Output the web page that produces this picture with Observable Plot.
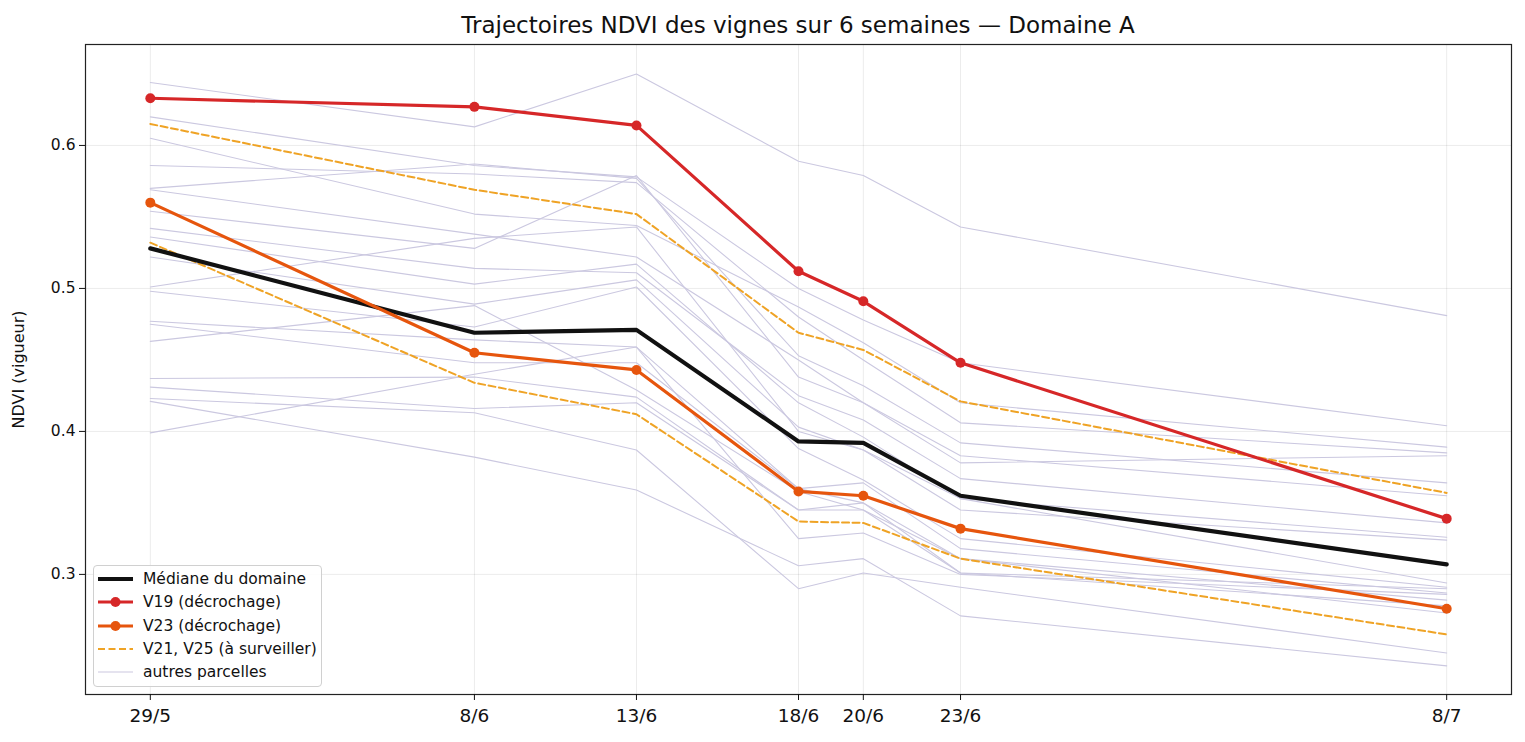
<!DOCTYPE html>
<html>
<head>
<meta charset="utf-8">
<script src="https://cdn.jsdelivr.net/npm/d3@7"></script>
<script src="https://cdn.jsdelivr.net/npm/@observablehq/plot@0.6"></script>
<style>
  html, body { margin: 0; padding: 0; background: #fff; }
  body { font-family: "DejaVu Sans", sans-serif; }
  #wrap { position: relative; width: 1525px; height: 742px; }
  #title { width: 1525px; height: 40px; line-height: 30px; padding-top: 10px; padding-left: 71px; box-sizing: border-box; text-align: center; font-size: 23px; color: #111; white-space: nowrap; }
  #legend { position: absolute; left: 93px; top: 565px; width: 229px; height: 122px; box-sizing: border-box;
            border: 1px solid #d0d0d0; border-radius: 4px; background: rgba(255,255,255,0.85); padding-top: 1.5px; }
  .row { height: 23.3px; display: flex; align-items: center; font-size: 15.5px; color: #111; white-space: nowrap; }
  .row svg { margin-left: 3px; margin-right: 9px; flex: none; }
</style>
</head>
<body>
<div id="wrap">
  <div id="title">Trajectoires NDVI des vignes sur 6 semaines — Domaine A</div>
  <div id="chart"></div>
  <div id="legend"></div>
</div>
<script>
// ---- Data ----
const dates = ["2024-05-29", "2024-06-08", "2024-06-13", "2024-06-18", "2024-06-20", "2024-06-23", "2024-07-08"];
const dateLabels = ["29/5", "8/6", "13/6", "18/6", "20/6", "23/6", "8/7"];
const yTicks = [0.3, 0.4, 0.5, 0.6];

const median = [0.528, 0.469, 0.471, 0.393, 0.392, 0.355, 0.307];
const v19 = [0.633, 0.627, 0.614, 0.512, 0.491, 0.448, 0.339];
const v23 = [0.560, 0.455, 0.443, 0.358, 0.355, 0.332, 0.276];
const v21 = [0.615, 0.569, 0.552, 0.469, 0.457, 0.421, 0.357];
const v25 = [0.532, 0.434, 0.412, 0.337, 0.336, 0.311, 0.258];

const autres = [
  [0.644, 0.613, 0.650, 0.589, 0.579, 0.543, 0.481],
  [0.620, 0.586, 0.578, 0.500, 0.478, 0.448, 0.404],
  [0.605, 0.552, 0.544, 0.487, 0.462, 0.420, 0.389],
  [0.586, 0.580, 0.574, 0.480, 0.450, 0.406, 0.385],
  [0.570, 0.587, 0.577, 0.453, 0.432, 0.392, 0.364],
  [0.569, 0.538, 0.522, 0.450, 0.420, 0.383, 0.355],
  [0.554, 0.528, 0.579, 0.438, 0.420, 0.378, 0.383],
  [0.542, 0.514, 0.511, 0.425, 0.408, 0.367, 0.336],
  [0.536, 0.503, 0.517, 0.420, 0.396, 0.353, 0.326],
  [0.522, 0.489, 0.506, 0.403, 0.387, 0.345, 0.324],
  [0.501, 0.535, 0.543, 0.400, 0.387, 0.353, 0.294],
  [0.498, 0.473, 0.501, 0.388, 0.366, 0.325, 0.291],
  [0.477, 0.464, 0.459, 0.360, 0.364, 0.318, 0.287],
  [0.475, 0.448, 0.448, 0.360, 0.350, 0.311, 0.282],
  [0.463, 0.488, 0.429, 0.358, 0.345, 0.301, 0.278],
  [0.437, 0.438, 0.424, 0.345, 0.345, 0.311, 0.273],
  [0.431, 0.416, 0.420, 0.345, 0.350, 0.301, 0.290],
  [0.423, 0.413, 0.387, 0.290, 0.301, 0.291, 0.245],
  [0.399, 0.440, 0.459, 0.325, 0.329, 0.300, 0.286],
  [0.421, 0.382, 0.359, 0.306, 0.311, 0.271, 0.236]
];

// ---- Build tables ----
const dateObjs = dates.map(d => new Date(d + "T00:00:00Z"));
const labelOf = new Map(dateObjs.map((d, i) => [+d, dateLabels[i]]));
const toRows = (vals, id) => vals.map((v, i) => ({date: dateObjs[i], v, id}));
const otherRows = autres.flatMap((vals, k) => toRows(vals, "g" + k));
const dashedRows = [...toRows(v21, "V21"), ...toRows(v25, "V25")];
const medRows = toRows(median, "med");
const v19Rows = toRows(v19, "V19");
const v23Rows = toRows(v23, "V23");

const C_GREY = "#cbc8e0", C_RED = "#d62728", C_ORANGE = "#e6550d", C_DASH = "#efa325", C_MED = "#111111";

const chart = Plot.plot({
  width: 1525,
  height: 702,
  marginLeft: 85,
  marginRight: 14,
  marginTop: 4,
  marginBottom: 48,
  style: {fontFamily: "DejaVu Sans, sans-serif", fontSize: "13px", color: "#111", background: "#fff"},
  x: {type: "utc", domain: [new Date("2024-05-27T00:00:00Z"), new Date("2024-07-10T00:00:00Z")]},
  y: {domain: [0.216, 0.6706]},
  marks: [
    Plot.gridX(dateObjs, {stroke: "#000", strokeOpacity: 0.08, strokeWidth: 1}),
    Plot.gridY(yTicks, {stroke: "#000", strokeOpacity: 0.08, strokeWidth: 1}),
    Plot.lineY(otherRows, {x: "date", y: "v", z: "id", stroke: C_GREY, strokeWidth: 1.1}),
    Plot.lineY(dashedRows, {x: "date", y: "v", z: "id", stroke: C_DASH, strokeWidth: 2, strokeDasharray: "7,3.5"}),
    Plot.lineY(medRows, {x: "date", y: "v", stroke: C_MED, strokeWidth: 4.2}),
    Plot.lineY(v23Rows, {x: "date", y: "v", stroke: C_ORANGE, strokeWidth: 3.2}),
    Plot.dot(v23Rows, {x: "date", y: "v", fill: C_ORANGE, r: 5}),
    Plot.lineY(v19Rows, {x: "date", y: "v", stroke: C_RED, strokeWidth: 3.2}),
    Plot.dot(v19Rows, {x: "date", y: "v", fill: C_RED, r: 5}),
    Plot.frame({stroke: "#222", strokeWidth: 1.2}),
    Plot.axisX(dateObjs, {tickFormat: d => labelOf.get(+d), tickSize: 6, tickPadding: 8, label: null, fontSize: 18.5}),
    Plot.axisY(yTicks, {tickFormat: d3.format(".1f"), tickSize: 6, tickPadding: 4, label: null, fontSize: 15.5}),
    Plot.axisY({ticks: [], tickSize: 0, label: "NDVI (vigueur)", labelAnchor: "center", labelArrow: "none",
      labelOffset: 73, fontSize: 16})
  ]
});
document.getElementById("chart").appendChild(chart);

// ---- Legend ----
const legendItems = [
  {label: "Médiane du domaine", color: C_MED, width: 4.2, dash: null, dot: false},
  {label: "V19 (décrochage)", color: C_RED, width: 3.2, dash: null, dot: true},
  {label: "V23 (décrochage)", color: C_ORANGE, width: 3.2, dash: null, dot: true},
  {label: "V21, V25 (à surveiller)", color: C_DASH, width: 2, dash: "7,3.5", dot: false},
  {label: "autres parcelles", color: C_GREY, width: 1.1, dash: null, dot: false}
];
const leg = document.getElementById("legend");
for (const it of legendItems) {
  const row = document.createElement("div");
  row.className = "row";
  row.innerHTML = `<svg width="37" height="12"><line x1="1" x2="36" y1="6" y2="6" stroke="${it.color}" stroke-width="${it.width}" ${it.dash ? `stroke-dasharray="${it.dash}"` : ""}/>${it.dot ? `<circle cx="18.5" cy="6" r="5" fill="${it.color}"/>` : ""}</svg><span>${it.label}</span>`;
  leg.appendChild(row);
}
</script>
</body>
</html>
